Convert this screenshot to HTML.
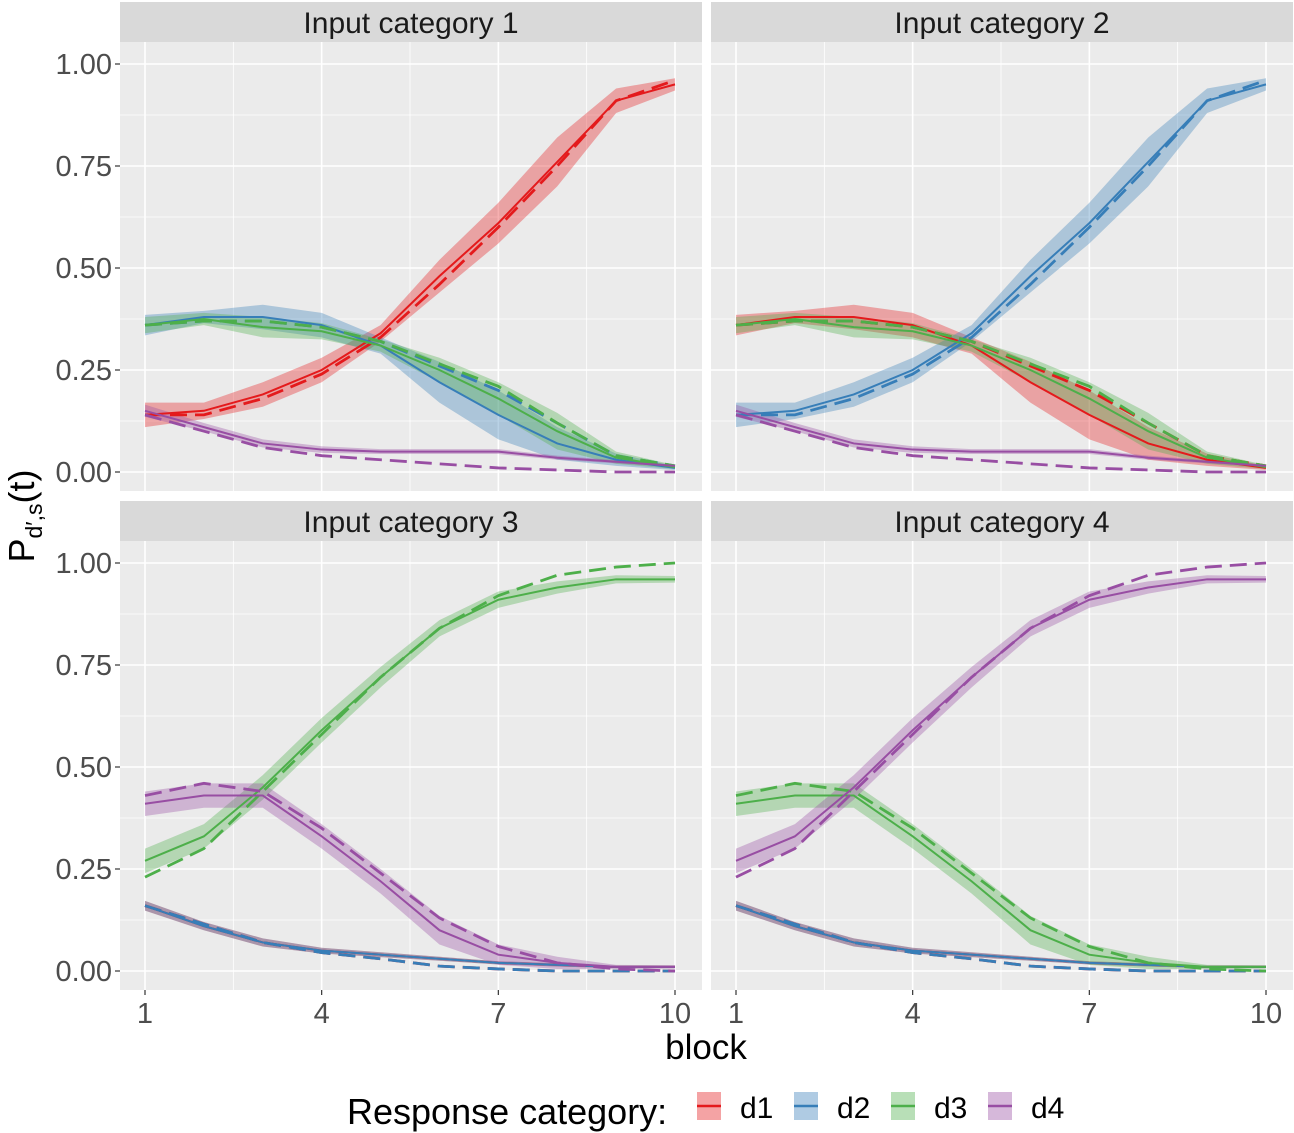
<!DOCTYPE html>
<html><head><meta charset="utf-8"><style>
body{margin:0;background:#fff;}
svg{display:block;font-family:"Liberation Sans",Arial,sans-serif;}
</style></head><body>
<svg id="c" width="1294" height="1133"></svg>
<script>
const blocks=[1,2,3,4,5,6,7,8,9,10];
const colors={d1:"#E41A1C",d2:"#377EB8",d3:"#4DAF4A",d4:"#984EA3"};
// Input category 1 (panel 2 swaps d1/d2)
const p1_d1_solid=[0.14,0.15,0.19,0.25,0.34,0.48,0.61,0.76,0.91,0.95];
const p1_d1_dash=[0.14,0.14,0.18,0.24,0.33,0.46,0.60,0.75,0.91,0.96];
const p1_d1_hw=[0.03,0.02,0.03,0.03,0.02,0.04,0.05,0.06,0.03,0.015];
const p1_d2_solid=[0.36,0.38,0.38,0.36,0.31,0.22,0.14,0.07,0.03,0.01];
const p1_d2_dash=[0.36,0.37,0.37,0.355,0.32,0.26,0.20,0.12,0.04,0.015];
const p1_d2_hw=[0.025,0.015,0.03,0.03,0.02,0.05,0.06,0.04,0.015,0.005];
const p1_d3_solid=[0.36,0.375,0.355,0.345,0.31,0.25,0.18,0.10,0.035,0.012];
const p1_d3_dash=[0.36,0.37,0.37,0.355,0.32,0.265,0.21,0.12,0.04,0.015];
const p1_d3_hw=[0.02,0.015,0.025,0.02,0.015,0.03,0.04,0.045,0.015,0.005];
const p1_d4_solid=[0.15,0.11,0.07,0.055,0.05,0.05,0.05,0.035,0.025,0.015];
const p1_d4_dash=[0.14,0.10,0.06,0.04,0.03,0.02,0.01,0.005,0.0,0.0];
const p1_d4_hw=[0.015,0.01,0.01,0.008,0.006,0.006,0.006,0.005,0.004,0.003];
// Input category 3 (panel 4 swaps d3/d4)
const p3_d3_solid=[0.27,0.33,0.45,0.59,0.72,0.84,0.91,0.94,0.96,0.96];
const p3_d3_dash=[0.23,0.30,0.44,0.58,0.72,0.84,0.92,0.97,0.99,1.0];
const p3_d3_hw=[0.03,0.03,0.03,0.03,0.025,0.02,0.02,0.015,0.01,0.008];
const p3_d4_solid=[0.41,0.43,0.43,0.33,0.22,0.10,0.04,0.02,0.01,0.01];
const p3_d4_dash=[0.43,0.46,0.44,0.35,0.24,0.13,0.06,0.02,0.005,0.0];
const p3_d4_hw=[0.03,0.03,0.03,0.03,0.03,0.035,0.025,0.015,0.005,0.004];
const p3_d1_solid=[0.16,0.11,0.07,0.05,0.04,0.03,0.02,0.015,0.01,0.01];
const p3_d1_dash=[0.16,0.115,0.07,0.045,0.03,0.012,0.005,0.0,0.0,0.0];
const p3_d1_hw=[0.012,0.01,0.01,0.007,0.006,0.005,0.004,0.004,0.003,0.003];
const yTicks=[0,0.25,0.5,0.75,1];
const yTickLabels=["0.00","0.25","0.50","0.75","1.00"];
const xTicks=[1,4,7,10];
const panelTitles=["Input category 1","Input category 2","Input category 3","Input category 4"];

const panelSeries=[
 {d1:[p1_d1_solid,p1_d1_dash,p1_d1_hw],d2:[p1_d2_solid,p1_d2_dash,p1_d2_hw],d3:[p1_d3_solid,p1_d3_dash,p1_d3_hw],d4:[p1_d4_solid,p1_d4_dash,p1_d4_hw]},
 {d2:[p1_d1_solid,p1_d1_dash,p1_d1_hw],d1:[p1_d2_solid,p1_d2_dash,p1_d2_hw],d3:[p1_d3_solid,p1_d3_dash,p1_d3_hw],d4:[p1_d4_solid,p1_d4_dash,p1_d4_hw]},
 {d1:[p3_d1_solid,p3_d1_dash,p3_d1_hw],d2:[p3_d1_solid,p3_d1_dash,p3_d1_hw],d3:[p3_d3_solid,p3_d3_dash,p3_d3_hw],d4:[p3_d4_solid,p3_d4_dash,p3_d4_hw]},
 {d1:[p3_d1_solid,p3_d1_dash,p3_d1_hw],d2:[p3_d1_solid,p3_d1_dash,p3_d1_hw],d4:[p3_d3_solid,p3_d3_dash,p3_d3_hw],d3:[p3_d4_solid,p3_d4_dash,p3_d4_hw]}
];
const svg=document.getElementById('c');
const NS="http://www.w3.org/2000/svg";
function el(t,a,p){const e=document.createElementNS(NS,t);for(const k in a)e.setAttribute(k,a[k]);(p||svg).appendChild(e);return e;}
const panels=[{x0:120,x1:702,st:2,top:42,bot:491},{x0:711,x1:1293,st:2,top:42,bot:491},{x0:120,x1:702,st:501,top:541,bot:990},{x0:711,x1:1293,st:501,top:541,bot:990}];
panels.forEach((P,pi)=>{
 const g=el('g',{});
 
 
 const xs=b=>P.x0+25+(b-1)*(530/9);
 const y0=P.bot-19, y1=P.top+22;
 const ys=v=>y0+(y1-y0)*v;
 const bg=el('rect',{x:P.x0,y:P.top,width:P.x1-P.x0,height:P.bot-P.top,fill:"#EBEBEB"},g);
 
 [0.125,0.375,0.625,0.875].forEach(v=>el('line',{x1:P.x0,x2:P.x1,y1:ys(v),y2:ys(v),stroke:"#fff","stroke-width":0.8},g));
 [2.5,5.5,8.5].forEach(v=>el('line',{y1:P.top,y2:P.bot,x1:xs(v),x2:xs(v),stroke:"#fff","stroke-width":0.8},g));
 yTicks.forEach(v=>el('line',{x1:P.x0,x2:P.x1,y1:ys(v),y2:ys(v),stroke:"#fff","stroke-width":1.6},g));
 xTicks.forEach(v=>el('line',{y1:P.top,y2:P.bot,x1:xs(v),x2:xs(v),stroke:"#fff","stroke-width":1.6},g));
 const st=el('rect',{x:P.x0,y:P.st,width:P.x1-P.x0,height:40,fill:"#D9D9D9"},g);
 
 const tt=el('text',{x:(P.x0+P.x1)/2,y:P.st+31,"text-anchor":"middle","font-size":30,fill:"#1A1A1A"},g);tt.textContent=panelTitles[pi];
 
 if(pi%2==0){yTicks.forEach((v,i)=>{el('line',{x1:P.x0-5,x2:P.x0,y1:ys(v),y2:ys(v),stroke:"#333","stroke-width":1.2},svg);
   const t=el('text',{x:P.x0-8,y:ys(v)+10,"text-anchor":"end","font-size":29,fill:"#4D4D4D"});t.textContent=yTickLabels[i];
   });}
 if(pi>=2){xTicks.forEach(v=>{el('line',{x1:xs(v),x2:xs(v),y1:P.bot,y2:P.bot+5,stroke:"#333","stroke-width":1.2});
   const t=el('text',{x:xs(v),y:P.bot+33,"text-anchor":"middle","font-size":29,fill:"#4D4D4D"});t.textContent=v;
   });}
 const S=panelSeries[pi];
 ["d1","d2","d3","d4"].forEach(k=>{
  const [sol,dash,hw]=S[k];
  let up=blocks.map((b,i)=>xs(b)+","+ys(sol[i]+hw[i]));
  let dn=blocks.map((b,i)=>xs(b)+","+ys(Math.max(0,sol[i]-hw[i]))).reverse();
  const r=el('polygon',{points:up.concat(dn).join(" "),fill:colors[k],"fill-opacity":0.35},g);
  
 });
 ["d1","d2","d3","d4"].forEach(k=>{
  const [sol,dash]=S[k];
  const l=el('polyline',{points:blocks.map((b,i)=>xs(b)+","+ys(sol[i])).join(" "),fill:"none",stroke:colors[k],"stroke-width":2},g);
  
  const d=el('polyline',{points:blocks.map((b,i)=>xs(b)+","+ys(dash[i])).join(" "),fill:"none",stroke:colors[k],"stroke-width":2.8,"stroke-dasharray":"17 8"},g);
  
 });
});
const xl=el('text',{x:706,y:1059,"text-anchor":"middle","font-size":35,fill:"#000"});xl.textContent="block";

const yl=el('text',{transform:"translate(34,516) rotate(-90)","text-anchor":"middle","font-size":36,fill:"#000"});
yl.innerHTML='P<tspan font-size="23" dy="8">d\u2032,s</tspan><tspan dy="-8">(t)</tspan>';

const lt=el('text',{x:347,y:1124,"font-size":36,fill:"#000"});lt.textContent="Response category:";

["d1","d2","d3","d4"].forEach((k,i)=>{
 const x=697+i*97;
 const g=el('g',{});
 
 el('rect',{x:x,y:1092,width:24,height:28,fill:colors[k],"fill-opacity":0.4},g);
 el('line',{x1:x,x2:x+24,y1:1106,y2:1106,stroke:colors[k],"stroke-width":2.5},g);
 const t=el('text',{x:x+43,y:1118,"font-size":30,fill:"#000"},g);t.textContent=k;
});
</script>
</body></html>
